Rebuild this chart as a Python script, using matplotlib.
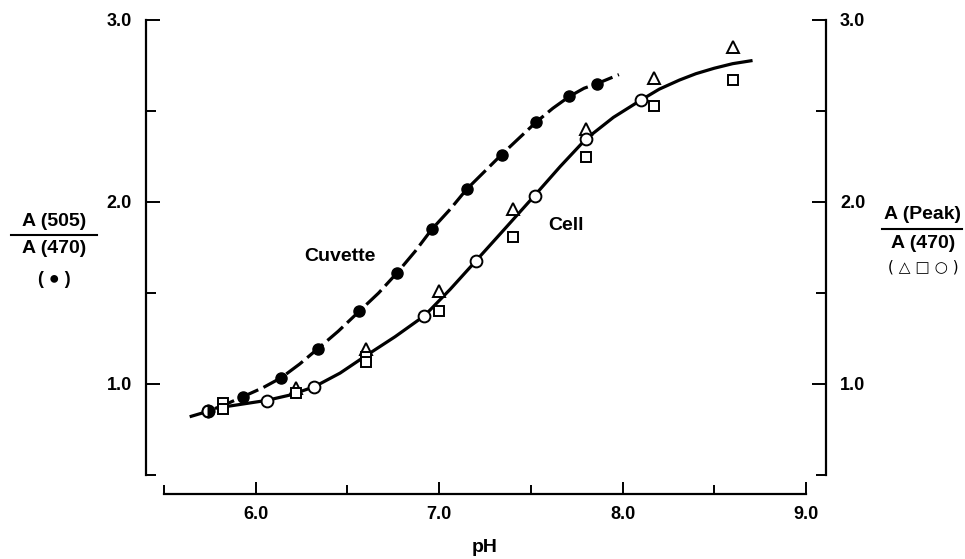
import numpy as np
import matplotlib.pyplot as plt
from matplotlib.lines import Line2D

plt.rcParams['font.family'] = ['Liberation Sans', 'DejaVu Sans']
plt.rcParams['font.weight'] = 'bold'

# cuvette (filled circles)
cuv_ph = [5.74, 5.93, 6.14, 6.34, 6.565, 6.77, 6.96, 7.15, 7.34, 7.53, 7.71, 7.86]
cuv_val = [0.85, 0.93, 1.035, 1.195, 1.40, 1.61, 1.85, 2.07, 2.26, 2.44, 2.58, 2.65]

# cell: triangles, squares, open circles
tri_ph = [6.22, 6.60, 7.00, 7.40, 7.80, 8.17, 8.60]
tri_val = [0.98, 1.19, 1.51, 1.96, 2.40, 2.68, 2.85]
sq_ph = [5.82, 5.82, 6.22, 6.60, 6.60, 7.00, 7.40, 7.80, 8.17, 8.60]
sq_val = [0.895, 0.86, 0.95, 1.15, 1.12, 1.40, 1.81, 2.25, 2.53, 2.67]
circ_ph = [5.74, 6.06, 6.32, 6.92, 7.20, 7.52, 7.80, 8.10]
circ_val = [0.85, 0.907, 0.985, 1.375, 1.676, 2.035, 2.346, 2.56]

# hand drawn curves, traced points
cuv_curve_ph = [5.64, 5.74, 5.84, 5.93, 6.04, 6.14, 6.24, 6.34, 6.45, 6.565, 6.67, 6.77,
                6.87, 6.96, 7.06, 7.15, 7.25, 7.34, 7.44, 7.53, 7.62, 7.71, 7.79, 7.86, 7.98]
cuv_curve_val = [0.82, 0.85, 0.89, 0.93, 0.98, 1.035, 1.11, 1.195, 1.29, 1.40, 1.50, 1.61,
                 1.73, 1.85, 1.96, 2.07, 2.17, 2.26, 2.355, 2.44, 2.515, 2.58, 2.625, 2.65, 2.70]
cell_curve_ph = [5.80, 5.93, 6.06, 6.19, 6.32, 6.46, 6.60, 6.76, 6.92, 7.06, 7.20, 7.36,
                 7.52, 7.66, 7.80, 7.95, 8.10, 8.20, 8.31, 8.40, 8.50, 8.60, 8.70]
cell_curve_val = [0.87, 0.89, 0.91, 0.94, 0.985, 1.06, 1.155, 1.26, 1.375, 1.52, 1.676, 1.855,
                  2.035, 2.195, 2.346, 2.465, 2.56, 2.62, 2.67, 2.705, 2.735, 2.76, 2.776]

x_ticks = [6.0, 7.0, 8.0, 9.0]
x_labels = ['6.0', '7.0', '8.0', '9.0']
y_ticks = [1.0, 2.0, 3.0]
y_labels = ['1.0', '2.0', '3.0']

W, H = 965, 559
fx = lambda x: x / W
fy = lambda y: 1 - y / H

fig = plt.figure(figsize=(W / 100, H / 100), dpi=100)
ax = fig.add_axes([fx(146), fy(494), 680 / W, 474 / H])
ax.set_xlim(5.5 - 18 / 183.4, 9.0 + 20 / 183.4)
ax.set_ylim(0.5 - 19 / 182, 3.0)

ax.plot(cuv_curve_ph, cuv_curve_val, color='k', lw=2.3, dashes=(6.5, 1.8),
        dash_capstyle='butt', clip_on=False)
ax.plot(cell_curve_ph, cell_curve_val, color='k', lw=2.3, clip_on=False)

ax.plot(tri_ph, tri_val, ls='none', marker='^', ms=8.5, mfc='white', mec='k', mew=1.4, clip_on=False)
ax.plot(sq_ph, sq_val, ls='none', marker='s', ms=6.5, mfc='white', mec='k', mew=1.4, clip_on=False)
ax.plot(circ_ph, circ_val, ls='none', marker='o', ms=8.5, mfc='white', mec='k', mew=1.4, clip_on=False)
ax.plot(cuv_ph[1:], cuv_val[1:], ls='none', marker='o', ms=8, mfc='k', mec='k', clip_on=False)
ax.plot(cuv_ph[:1], cuv_val[:1], ls='none', marker='o', ms=8.5, fillstyle='right',
        mfc='k', mfcalt='white', mec='k', mew=1.4, clip_on=False)

# axes frame: three separate spines
ax.spines['top'].set_visible(False)
for s in ['left', 'right', 'bottom']:
    ax.spines[s].set_linewidth(1.6)
ax.spines['left'].set_bounds(0.5, 3.0)
ax.spines['right'].set_bounds(0.5, 3.0)
ax.spines['bottom'].set_bounds(5.5, 9.0)

ax.set_xticks(x_ticks)
ax.set_xticklabels(x_labels)
ax.set_xticks([5.5, 6.5, 7.5, 8.5], minor=True)
ax.set_yticks(y_ticks)
ax.set_yticklabels(y_labels)
ax.set_yticks([0.5, 1.5, 2.5], minor=True)
ax.yaxis.set_ticks_position('both')
ax.tick_params(axis='y', which='both', direction='in', labelright=True, labelsize=13, pad=10, width=1.4)
ax.tick_params(axis='y', which='major', length=10)
ax.tick_params(axis='y', which='minor', length=7)
ax.tick_params(axis='x', which='both', direction='in', labelsize=13, pad=8.5, width=1.4)
ax.tick_params(axis='x', which='major', length=8.6)
ax.tick_params(axis='x', which='minor', length=6.5)

fig.text(fx(485), fy(547), 'pH', ha='center', va='center', fontsize=14)
ax.text(6.46, 1.70, 'Cuvette', ha='center', va='center', fontsize=14)
ax.text(7.69, 1.87, 'Cell', ha='center', va='center', fontsize=14)

# left axis label (fraction)
fig.text(fx(54), fy(222), 'A (505)', ha='center', va='center', fontsize=14)
fig.add_artist(Line2D([fx(11), fx(97)], [fy(235), fy(235)], color='k', lw=1.5))
fig.text(fx(54), fy(249), 'A (470)', ha='center', va='center', fontsize=14)
fig.text(fx(54), fy(280), '( \u25cf )', ha='center', va='center', fontsize=13)

# right axis label
fig.text(fx(923), fy(214), 'A (Peak)', ha='center', va='center', fontsize=14)
fig.add_artist(Line2D([fx(882), fx(962)], [fy(229), fy(229)], color='k', lw=1.5))
fig.text(fx(923), fy(243), 'A (470)', ha='center', va='center', fontsize=14)
fig.text(fx(923), fy(267), '( \u25b3 \u25a1 \u25cb )', ha='center', va='center', fontsize=11,
         family=['DejaVu Sans'], fontweight='normal')

fig.savefig('out.png', dpi=100)
